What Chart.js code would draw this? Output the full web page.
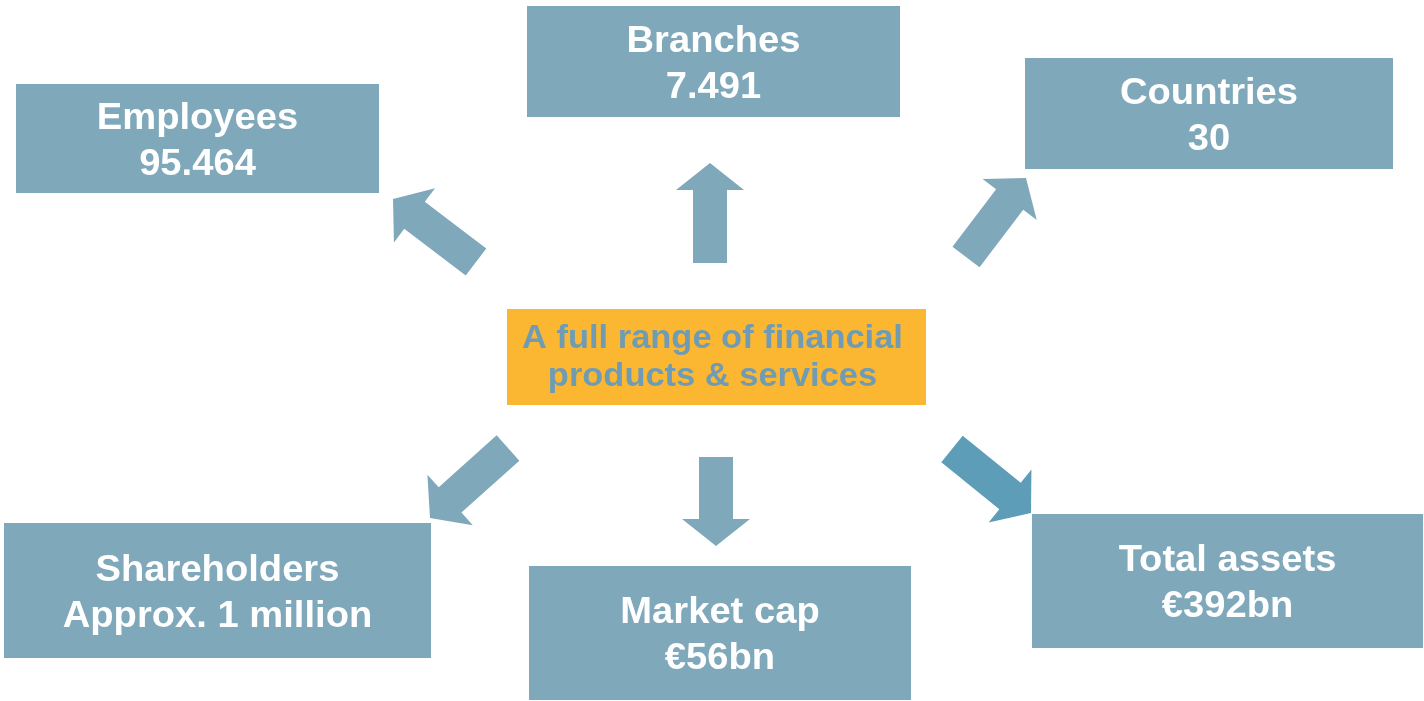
<!DOCTYPE html>
<html>
<head>
<meta charset="utf-8">
<script src="https://cdn.jsdelivr.net/npm/chart.js@4.4.1/dist/chart.umd.min.js"></script>
<style>
  html, body { margin: 0; padding: 0; background: #ffffff; }
  #wrap { width: 1424px; height: 701px; position: relative; }
</style>
</head>
<body>
<div id="wrap"><canvas id="chart"></canvas></div>
<script>
/* Key-figures diagram: six figure boxes around a central box, linked by arrows. */

// --- content ---
const titles = ['Employees', 'Branches', 'Countries', 'Shareholders', 'Market cap', 'Total assets'];
const values = ['95.464', '7.491', '30', 'Approx. 1 million', '€56bn', '€392bn'];
const centreLines = ['A full range of financial', 'products & services'];

// --- layout (diagram units = px of a 1424x701 sheet) ---
const boxRects = [            // [x0, y0, x1, y1]
  [16, 84, 379, 193],
  [527, 6, 900, 117],
  [1025, 58, 1393, 169],
  [4, 523, 431, 658],
  [529, 566, 911, 700],
  [1032, 514, 1423, 648],
];
const centreRect = [507, 309, 926, 405];
const arrowTails = [[476, 262], [710, 263], [966, 257], [508, 448], [716, 457], [952, 449]];
const arrowTips = [[393, 199], [710, 163], [1026, 178], [430, 518], [716, 546], [1031, 513]];

const BOX = '#7fa8ba';
const ARROW = '#7fa8ba';
const ARROW_DARK = '#5d9db7';
const ORANGE = '#fbb731';
const CENTRE_TXT = '#6f9cb4';
const FONT = 'bold 36px "Liberation Sans", Arial, sans-serif';
const FONT_C = 'bold 34px "Liberation Sans", Arial, sans-serif';

// text in the source is a touch wider than Liberation at the same height
function wideText(ctx, s, x, y, k) {
  ctx.save();
  ctx.translate(x, y);
  ctx.scale(k, 1);
  ctx.fillText(s, 0, 0);
  ctx.restore();
}

const diagram = {
  id: 'diagram',
  afterDatasetsDraw(chart) {
    const { ctx, scales: { x, y } } = chart;
    const px = (v) => x.getPixelForValue(v);
    const py = (v) => y.getPixelForValue(v);
    ctx.save();

    // arrows
    arrowTails.forEach((t, i) => {
      const p = arrowTips[i];
      const dx = p[0] - t[0], dy = p[1] - t[1];
      const len = Math.hypot(dx, dy);
      const ux = dx / len, uy = dy / len;
      const nx = -uy, ny = ux;
      const sw = 17, hw = 34, hl = 27;
      const bx = p[0] - ux * hl, by = p[1] - uy * hl;
      const pts = [
        [t[0] + nx * sw, t[1] + ny * sw],
        [bx + nx * sw, by + ny * sw],
        [bx + nx * hw, by + ny * hw],
        [p[0], p[1]],
        [bx - nx * hw, by - ny * hw],
        [bx - nx * sw, by - ny * sw],
        [t[0] - nx * sw, t[1] - ny * sw],
      ];
      ctx.beginPath();
      pts.forEach((q, k) => (k ? ctx.lineTo(px(q[0]), py(q[1])) : ctx.moveTo(px(q[0]), py(q[1]))));
      ctx.closePath();
      ctx.fillStyle = i === 5 ? ARROW_DARK : ARROW;
      ctx.fill();
    });

    // figure boxes
    ctx.textAlign = 'center';
    ctx.textBaseline = 'alphabetic';
    boxRects.forEach((r, i) => {
      const x0 = px(r[0]), y0 = py(r[1]), x1 = px(r[2]), y1 = py(r[3]);
      ctx.fillStyle = BOX;
      ctx.fillRect(x0, y0, x1 - x0, y1 - y0);
      const cx = (x0 + x1) / 2, cy = (y0 + y1) / 2;
      ctx.fillStyle = '#ffffff';
      ctx.font = FONT;
      wideText(ctx, titles[i], cx, cy - 10, 1.06);
      wideText(ctx, values[i], cx, cy + 36, 1.06);
    });

    // centre box
    const c = centreRect;
    const cx0 = px(c[0]), cy0 = py(c[1]), cx1 = px(c[2]), cy1 = py(c[3]);
    ctx.fillStyle = ORANGE;
    ctx.fillRect(cx0, cy0, cx1 - cx0, cy1 - cy0);
    ctx.fillStyle = CENTRE_TXT;
    ctx.font = FONT_C;
    const ccx = (cx0 + cx1) / 2 - 4, ccy = (cy0 + cy1) / 2;
    wideText(ctx, centreLines[0], ccx, ccy - 9, 1.013);
    wideText(ctx, centreLines[1], ccx, ccy + 29, 1.013);

    ctx.restore();
  },
};

new Chart(document.getElementById('chart'), {
  type: 'scatter',
  data: {
    datasets: [{
      data: boxRects.map((r) => ({ x: (r[0] + r[2]) / 2, y: (r[1] + r[3]) / 2 })),
      pointRadius: 0,
    }],
  },
  options: {
    responsive: true,
    maintainAspectRatio: false,
    animation: false,
    layout: { padding: 0 },
    plugins: { legend: { display: false }, tooltip: { enabled: false } },
    scales: {
      x: { type: 'linear', min: 0, max: 1424, display: false },
      y: { type: 'linear', min: 0, max: 701, reverse: true, display: false },
    },
  },
  plugins: [diagram],
});
</script>
</body>
</html>
